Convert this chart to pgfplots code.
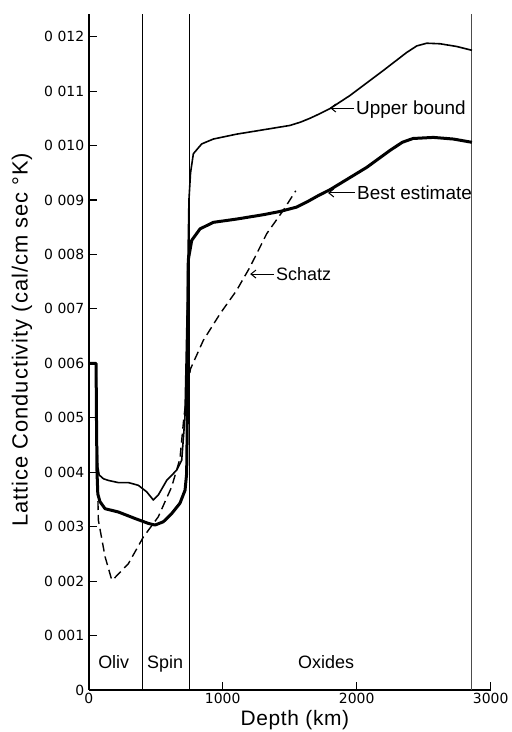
\documentclass[border=0pt]{standalone}
\usepackage{fontspec}
\setmainfont{Liberation Sans}
\newfontfamily\tickfont{DejaVu Sans}
\usepackage{pgfplots}
\pgfplotsset{compat=1.18}
\usetikzlibrary{arrows.meta}

\begin{document}
\begin{tikzpicture}[x=1bp,y=1bp]
\path[use as bounding box] (0,0) rectangle (512,732);
\begin{axis}[
  at={(88.7bp,42bp)}, anchor=south west,
  scale only axis, width=402bp, height=676bp,
  xmin=0, xmax=3000, ymin=0, ymax=0.012417,
  axis x line*=bottom, axis y line*=left,
  axis line style={line width=2.2bp, -},
  scaled y ticks=false, scaled x ticks=false,
  xtick={0,1000,2000,3000},
  xticklabels={0,1000,2000,3000},
  ytick={0,0.001,0.002,0.003,0.004,0.005,0.006,0.007,0.008,0.009,0.010,0.011,0.012},
  yticklabels={0,0\,\,001,0\,\,002,0\,\,003,0\,\,004,0\,\,005,0\,\,006,0\,\,007,0\,\,008,0\,\,009,0\,\,010,0\,\,011,0\,\,012},
  major tick length=8bp,
  tick style={line width=1.2bp, black},
  tick label style={font=\tickfont\fontsize{14}{14}\selectfont},
  yticklabel style={xshift=-1bp},
  xlabel={Depth (km)},
  xlabel style={at={(axis description cs:0.513,0)}, anchor=north, yshift=-17bp,
    font=\addfontfeature{LetterSpace=3}\fontsize{21}{21}\selectfont},
  ylabel={Lattice Conductivity (cal/cm sec °K)},
  ylabel style={at={(axis description cs:-0.166,0.518)}, anchor=center,
    font=\addfontfeature{LetterSpace=4.5}\fontsize{22}{22}\selectfont},
  clip=false,
]
% phase boundaries
\addplot[black, line width=0.9bp] coordinates {(400,0) (400,0.012417)};
\addplot[black, line width=0.9bp] coordinates {(754,0) (754,0.012417)};
\addplot[black!70, line width=0.9bp] coordinates {(2860,0) (2860,0.012417)};

% Upper bound
\addplot[black, line width=1.6bp, line join=round] coordinates {
(0,0.0060) (55,0.0060) (58,0.0052) (63,0.0045) (68,0.0041) (78,0.00395)
(110,0.00388) (146,0.00385) (220,0.00381) (296,0.00381) (370,0.00376)
(433,0.00364) (482,0.00349) (519,0.00358) (582,0.00385) (657,0.00404)
(694,0.00422) (718,0.0050) (735,0.0070) (748,0.0090) (760,0.00950)
(781,0.00985) (843,0.01003) (930,0.01012) (1104,0.01021) (1204,0.01025)
(1353,0.01031) (1502,0.01037) (1580,0.01043) (1650,0.01050) (1720,0.01058)
(1801,0.01068) (1950,0.01092) (2199,0.01138) (2373,0.01171) (2448,0.01183)
(2522,0.01188) (2622,0.01187) (2746,0.01182) (2860,0.01175)};

% Best estimate
\addplot[black, line width=3bp, line join=round] coordinates {
(0,0.0060) (55,0.0060) (58,0.0050) (62,0.0040) (68,0.0036) (84,0.00346)
(122,0.00333) (221,0.00327) (346,0.00315) (445,0.00306) (495,0.00303)
(557,0.00309) (619,0.00324) (681,0.00343) (719,0.00367) (731,0.00398)
(736,0.0050) (740,0.0065) (743,0.0079) (769,0.00826) (831,0.00847)
(930,0.00859) (1104,0.00865) (1303,0.00873) (1428,0.00879) (1552,0.00887)
(1640,0.00898) (1720,0.00909) (1801,0.00919) (2075,0.0096) (2248,0.00991)
(2340,0.01006) (2420,0.01013) (2572,0.01015) (2721,0.01012) (2860,0.01006)};

% Schatz
\addplot[black, line width=1.4bp, dash pattern=on 9bp off 5bp] coordinates {
(60,0.0045) (72,0.00312) (122,0.00245) (172,0.00202) (190,0.00205)
(296,0.00232) (408,0.00281) (519,0.00318) (619,0.00373) (681,0.00425)
(710,0.0050) (745,0.0057) (760,0.0059) (855,0.00642) (980,0.00691)
(1104,0.00734) (1204,0.00777) (1328,0.00838) (1452,0.00881) (1545,0.00917)};

% annotations
\draw[line width=1bp, -{Straight Barb[length=5bp,width=8bp]}] (1980,0.01069) -- (1801,0.01069);
\node[anchor=base west, inner sep=0, font=\fontsize{19}{19}\selectfont] at (1995,0.010562) {Upper bound};
\draw[line width=1bp, -{Straight Barb[length=5bp,width=8bp]}] (1985,0.00913) -- (1786,0.00913);
\node[anchor=base west, inner sep=0, font=\fontsize{19}{19}\selectfont] at (2002,0.009001) {Best estimate};
\draw[line width=1bp, -{Straight Barb[length=5bp,width=8bp]}] (1383,0.00764) -- (1205,0.00764);
\node[anchor=base west, inner sep=0, font=\fontsize{18}{18}\selectfont] at (1398,0.007513) {Schatz};
\node[anchor=base west, inner sep=0, font=\fontsize{18}{18}\selectfont] at (70,0.000404) {Oliv};
\node[anchor=base west, inner sep=0, font=\fontsize{18}{18}\selectfont] at (435,0.000404) {Spin};
\node[anchor=base west, inner sep=0, font=\fontsize{18}{18}\selectfont] at (1562,0.000404) {Oxides};
\end{axis}
\end{tikzpicture}
\end{document}
